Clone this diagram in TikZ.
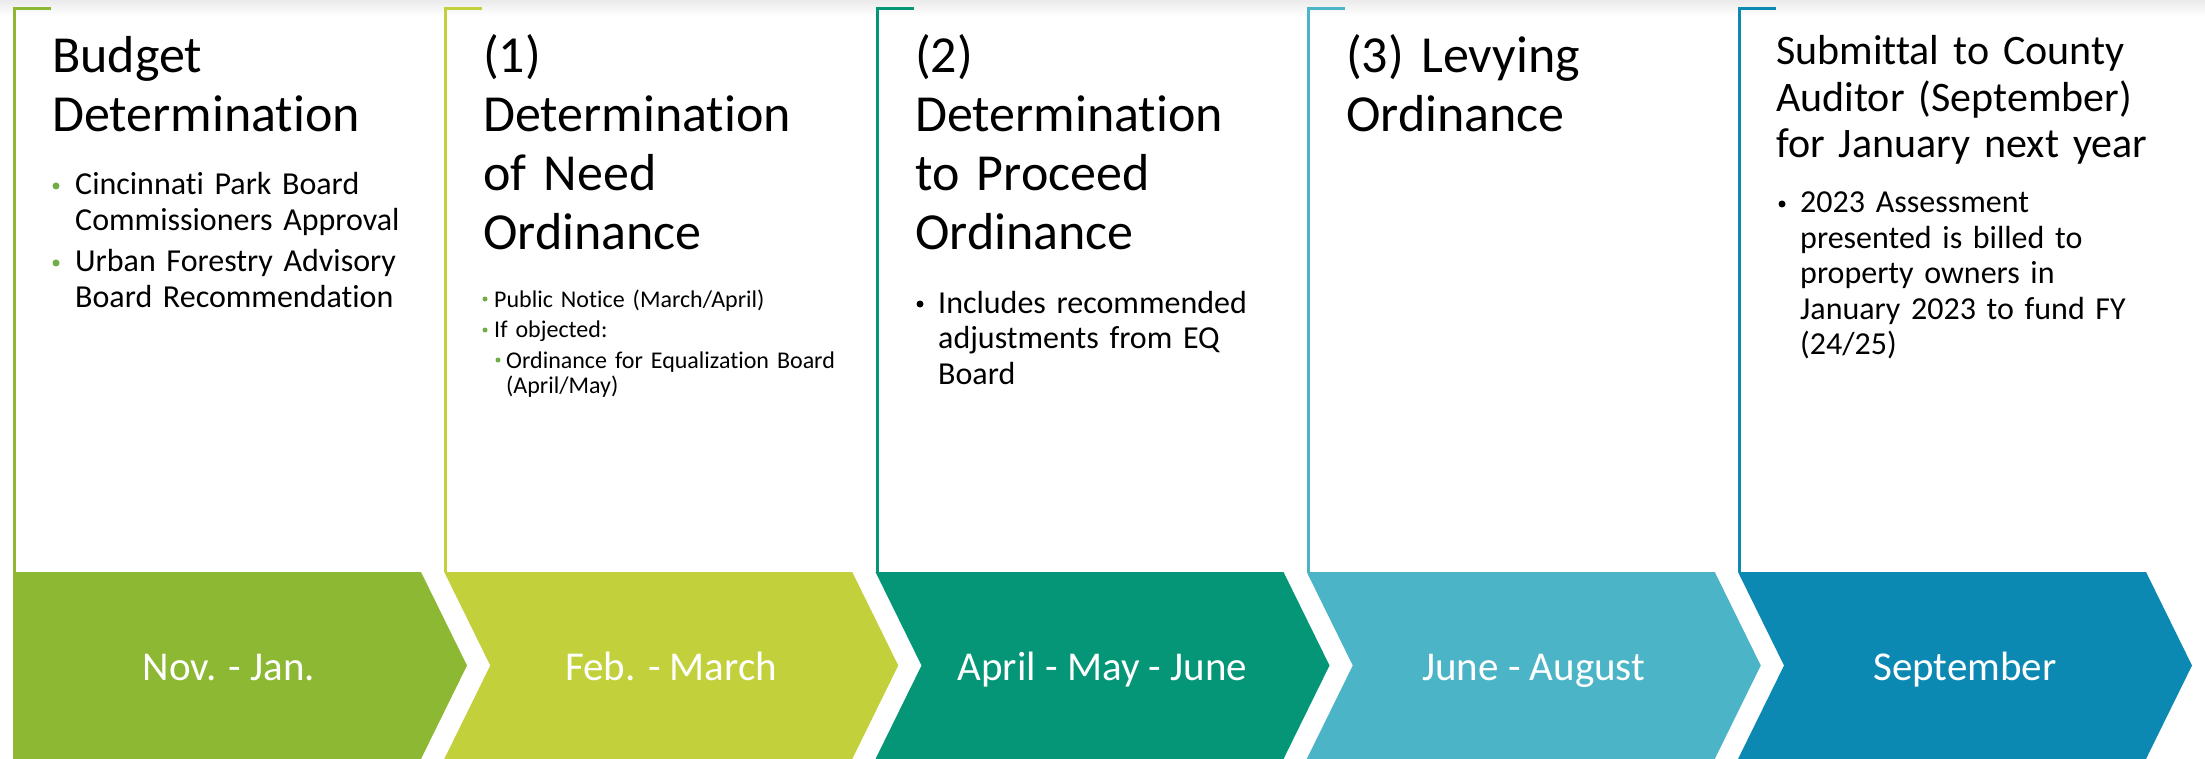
\documentclass[tikz,border=0pt]{standalone}
\usepackage{fontspec}
\setmainfont{Carlito}[Ligatures=NoCommon]
\definecolor{cA}{RGB}{140,184,52}
\definecolor{cB}{RGB}{194,209,59}
\definecolor{cC}{RGB}{4,150,118}
\definecolor{cD}{RGB}{75,180,198}
\definecolor{cE}{RGB}{12,137,178}
\definecolor{bulgreen}{RGB}{112,173,71}
\begin{document}
\begin{tikzpicture}[x=1pt,y=-1pt,
  frame/.style={line width=3pt, line join=miter},
  title/.style={anchor=base west, inner sep=0pt, text width=430pt, align=left, font=\fontsize{52}{59}\selectfont},
  subtitle/.style={anchor=base west, inner sep=0pt, text width=430pt, align=left, font=\fontsize{42}{46.5}\selectfont},
  item/.style={anchor=base west, inner sep=0pt, text width=430pt, align=left, font=\fontsize{32}{35.5}\selectfont},
  smallitem/.style={anchor=base west, inner sep=0pt, text width=430pt, align=left, font=\fontsize{24}{25.5}\selectfont},
  dot/.style={circle, inner sep=0pt, minimum size=7pt, fill=#1},
  smalldot/.style={circle, inner sep=0pt, minimum size=5pt, fill=#1},
  label/.style={anchor=base, inner sep=0pt, text=white, font=\fontsize{41}{48}\selectfont}
]
\useasboundingbox (0,0) rectangle (2205,759);
\shade[top color=black!8, bottom color=white] (0,0) rectangle (2205,16);

% chevrons and frames
\foreach \i/\c in {0/cA,1/cB,2/cC,3/cD,4/cE}{
  \pgfmathsetmacro\L{13+431.25*\i}
  \ifnum\i=0
    \fill[\c] (\L,572) -- (\L+408,572) -- (\L+454,665.5) -- (\L+408,759) -- (\L,759) -- cycle;
  \else
    \fill[\c] (\L,572) -- (\L+408,572) -- (\L+454,665.5) -- (\L+408,759) -- (\L,759) -- (\L+46,665.5) -- cycle;
  \fi
  \draw[frame,\c] (\L+38,8.5) -- (\L+1.5,8.5) -- (\L+1.5,572);
}

% chevron labels
\node[label] (l1) at (229,680) {Nov. - Jan.};
\node[label] (l2) at (671.25,680) {Feb. - March};
\node[label] (l3) at (1102.5,680) {April - May - June};
\node[label] (l4) at (1533.75,680) {June - August};
\node[label] (l5) at (1965,680) {September};

% box 1
\node[title] (t1) at (52,73) {Budget\\Determination};
\node[dot=bulgreen] (b1a) at (56,186) {};
\node[item] (i1a) at (75,195) {Cincinnati Park Board\\Commissioners Approval};
\node[dot=bulgreen] (b1b) at (56,263) {};
\node[item] (i1b) at (75,272) {Urban Forestry Advisory\\Board Recommendation};

% box 2
\node[title] (t2) at (483,73) {(1)\\Determination\\of Need\\Ordinance};
\node[smalldot=bulgreen] (b2a) at (485,299) {};
\node[smallitem] (i2a) at (494,307) {Public Notice (March/April)};
\node[smalldot=bulgreen] (b2b) at (485,330) {};
\node[smallitem] (i2b) at (494,337) {If objected:};
\node[smalldot=bulgreen] (b2c) at (498,360) {};
\node[smallitem] (i2c) at (506,368) {Ordinance for Equalization Board\\(April/May)};

% box 3
\node[title] (t3) at (915,73) {(2)\\Determination\\to Proceed\\Ordinance};
\node[dot=black] (b3a) at (920,304) {};
\node[item] (i3a) at (938,313) {Includes recommended\\adjustments from EQ\\Board};

% box 4
\node[title] (t4) at (1346,73) {(3) Levying\\Ordinance};

% box 5
\node[subtitle] (t5) at (1776,65) {Submittal to County\\Auditor (September)\\for January next year};
\node[dot=black] (b5a) at (1782,204) {};
\node[item] (i5a) at (1800,213) {2023 Assessment\\presented is billed to\\property owners in\\January 2023 to fund FY\\(24/25)};
\end{tikzpicture}
\end{document}
